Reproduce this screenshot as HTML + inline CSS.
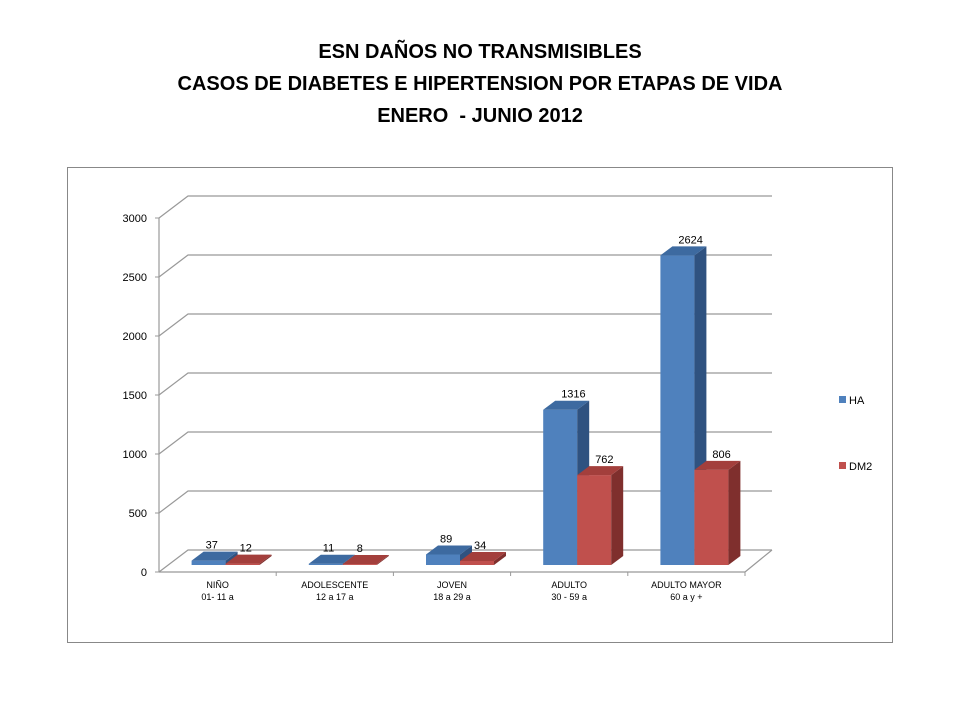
<!DOCTYPE html>
<html><head><meta charset="utf-8"><style>
body{margin:0;background:#fff;width:960px;height:720px;overflow:hidden;font-family:"Liberation Sans",sans-serif}
.title{position:absolute;left:0;width:960px;text-align:center;font-weight:bold;font-size:20px;color:#000}
</style></head><body>
<div class="title" style="top:36px;line-height:32px">ESN DAÑOS NO TRANSMISIBLES<br>CASOS DE DIABETES E HIPERTENSION POR ETAPAS DE VIDA<br>ENERO&nbsp; - JUNIO 2012</div>
<svg id="chart" width="960" height="720" style="position:absolute;left:0;top:0">
<rect x="67.5" y="167.5" width="825" height="475" fill="#fff" stroke="#888" stroke-width="1"/>
</svg>
<script>
const categories=["NIÑO|01- 11 a","ADOLESCENTE|12 a 17 a","JOVEN|18 a 29 a","ADULTO|30 - 59 a","ADULTO MAYOR|60 a y +"];
const haValues=[37,11,89,1316,2624];
const dm2Values=[12,8,34,762,806];
const yTicks=[0,500,1000,1500,2000,2500,3000];
const seriesNames=["HA","DM2"];
const svg=document.getElementById('chart');
const NS='http://www.w3.org/2000/svg';
function mk(t,a,p){const e=document.createElementNS(NS,t);for(const k in a)e.setAttribute(k,a[k]);(p||svg).appendChild(e);return e;}
const X0=159,X1=745,Y0=572,Y3000=218,DX=29,DY=-22;
const k=(Y0-Y3000)/3000;
function yF(v){return Y0-v*k;}
const catW=(X1-X0)/categories.length;
function xC(i){return X0+catW*(i+0.5);}
// gridlines / back wall
yTicks.forEach(t=>{const y=yF(t);
 const g=mk('polyline',{points:`${X0},${y} ${X0+DX},${y+DY} ${772},${y+DY}`,fill:'none',stroke:'#999','stroke-width':1.2});
 
 const tx=mk('text',{x:X0-12,y:y+4,'text-anchor':'end','font-size':11,fill:'#000'});tx.textContent=t;
 
 mk('line',{x1:X0-4,y1:y,x2:X0,y2:y,stroke:'#999'});
});
mk('line',{x1:X0,y1:Y0,x2:X0,y2:Y3000,stroke:'#999','stroke-width':1.2});
mk('polyline',{points:`${X0},${Y0} ${X1},${Y0} ${772},${Y0+DY}`,fill:'none',stroke:'#999','stroke-width':1.2});
const colors=[["#4f81bd","#3d6aa0","#2f5280"],["#c0504d","#a33f3c","#7f2f2d"]];
const base=565,bw=34,dx=12,dy=-9;
categories.forEach((c,i)=>{
 const left=xC(i)-26;
 mk('line',{x1:X0+catW*(i+1),y1:Y0,x2:X0+catW*(i+1),y2:Y0+4,stroke:'#999'});
 [haValues[i],dm2Values[i]].forEach((v,s)=>{
  const x=left+s*bw,top=base-v*k;
  const g=mk('g',{});
  
  mk('rect',{x:x,y:top,width:bw,height:base-top,fill:colors[s][0]},g);
  mk('polygon',{points:`${x+bw},${top} ${x+bw+dx},${top+dy} ${x+bw+dx},${base+dy} ${x+bw},${base}`,fill:colors[s][2]},g);
  mk('polygon',{points:`${x},${top} ${x+dx},${top+dy} ${x+bw+dx},${top+dy} ${x+bw},${top}`,fill:colors[s][1]},g);
  const t=mk('text',{x:x+dx+(v>500?6:2),y:top+dy-3,'font-size':11,fill:'#000'});t.textContent=v;
  
 });
 const parts=c.split('|');
 parts.forEach((p,j)=>{const t=mk('text',{x:xC(i),y:588+j*12,'text-anchor':'middle','font-size':9,fill:'#000'});t.textContent=p;
  });
});
seriesNames.forEach((n,s)=>{const y=400+s*66;
 const r=mk('rect',{x:839,y:y-4,width:7,height:7,fill:colors[s][0]});
 
 const t=mk('text',{x:849,y:y+4,'font-size':11,fill:'#000'});t.textContent=n;
 
});
</script>
</body></html>
